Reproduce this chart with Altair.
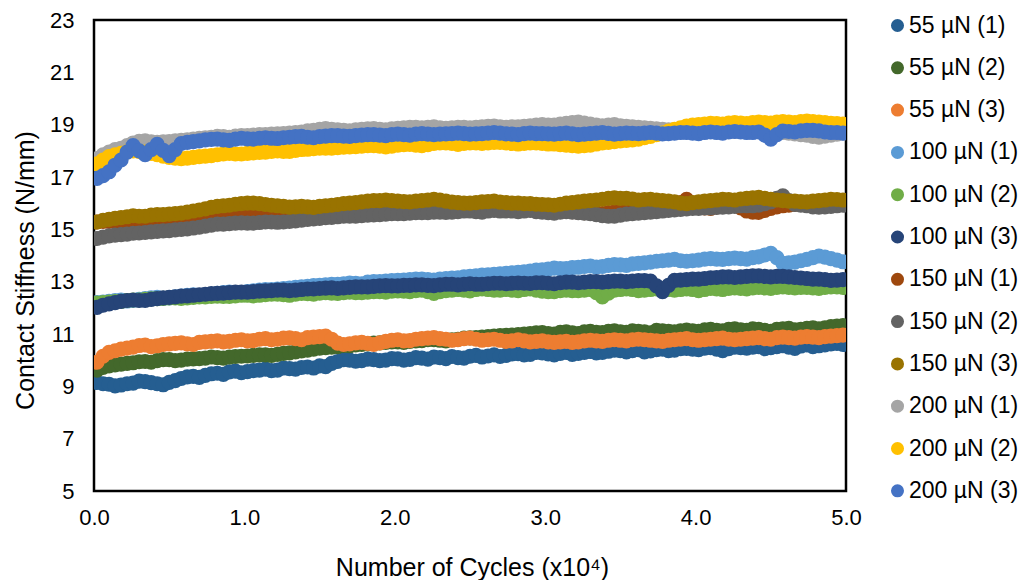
import altair as alt
import pandas as pd

# x positions (x10^4 cycles): two interleaved sampling grids
cycles_a = [0.02, 0.10, 0.18, 0.26, 0.34, 0.42, 0.50, 0.58, 0.66, 0.74,
            0.82, 0.90, 0.98, 1.06, 1.14, 1.22, 1.30, 1.38, 1.46, 1.54,
            1.62, 1.70, 1.78, 1.86, 1.94, 2.02, 2.10, 2.18, 2.26, 2.34,
            2.42, 2.50, 2.58, 2.66, 2.74, 2.82, 2.90, 2.98, 3.06, 3.14,
            3.22, 3.30, 3.38, 3.46, 3.54, 3.62, 3.70, 3.78, 3.86, 3.94,
            4.02, 4.10, 4.18, 4.26, 4.34, 4.42, 4.50, 4.58, 4.66, 4.74,
            4.82, 4.90, 4.98]
cycles_b = [0.06, 0.14, 0.22, 0.30, 0.38, 0.46, 0.54, 0.62, 0.70, 0.78,
            0.86, 0.94, 1.02, 1.10, 1.18, 1.26, 1.34, 1.42, 1.50, 1.58,
            1.66, 1.74, 1.82, 1.90, 1.98, 2.06, 2.14, 2.22, 2.30, 2.38,
            2.46, 2.54, 2.62, 2.70, 2.78, 2.86, 2.94, 3.02, 3.10, 3.18,
            3.26, 3.34, 3.42, 3.50, 3.58, 3.66, 3.74, 3.82, 3.90, 3.98,
            4.06, 4.14, 4.22, 4.30, 4.38, 4.46, 4.54, 4.62, 4.70, 4.78,
            4.86, 4.94]

s55_1a = [9.15, 9.08, 9.05, 9.12, 9.18, 9.10, 9.15, 9.30, 9.38, 9.42,
          9.50, 9.55, 9.52, 9.60, 9.66, 9.62, 9.68, 9.72, 9.70, 9.75,
          9.95, 10.00, 9.98, 10.02, 10.00, 10.05, 10.03, 10.08, 10.12, 10.06,
          10.10, 10.15, 10.12, 10.20, 10.18, 10.25, 10.22, 10.28, 10.20, 10.30,
          10.26, 10.33, 10.30, 10.38, 10.32, 10.40, 10.35, 10.42, 10.38, 10.45,
          10.40, 10.48, 10.36, 10.50, 10.46, 10.52, 10.48, 10.55, 10.45, 10.58,
          10.55, 10.62, 10.60]
s55_1b = [9.10, 9.02, 9.10, 9.20, 9.14, 9.06, 9.22, 9.36, 9.34, 9.48,
          9.46, 9.58, 9.56, 9.62, 9.60, 9.70, 9.66, 9.74, 9.78, 9.88,
          10.02, 9.96, 10.04, 9.98, 10.06, 10.00, 10.10, 10.04, 10.10, 10.14,
          10.08, 10.18, 10.16, 10.14, 10.24, 10.20, 10.30, 10.24, 10.26, 10.22,
          10.30, 10.28, 10.34, 10.36, 10.36, 10.32, 10.40, 10.36, 10.44, 10.42,
          10.46, 10.42, 10.44, 10.48, 10.50, 10.44, 10.52, 10.50, 10.54, 10.52,
          10.58, 10.64]
s55_2a = [9.62, 9.78, 9.85, 9.90, 9.95, 9.98, 10.02, 10.00, 10.05, 10.08,
          10.10, 10.12, 10.15, 10.18, 10.20, 10.22, 10.28, 10.35, 10.42, 10.48,
          10.52, 10.55, 10.60, 10.65, 10.68, 10.70, 10.72, 10.75, 10.78, 10.74,
          10.80, 10.85, 10.88, 10.92, 10.95, 10.98, 11.02, 11.05, 11.00, 11.08,
          11.02, 11.10, 11.05, 11.12, 11.06, 11.10, 11.04, 11.12, 11.08, 11.15,
          11.10, 11.18, 11.12, 11.20, 11.14, 11.18, 11.10, 11.20, 11.16, 11.22,
          11.20, 11.28, 11.32]
s55_2b = [9.72, 9.82, 9.88, 9.94, 9.92, 10.02, 9.98, 10.04, 10.06, 10.12,
          10.08, 10.14, 10.16, 10.20, 10.18, 10.26, 10.32, 10.38, 10.46, 10.50,
          10.56, 10.58, 10.62, 10.66, 10.70, 10.68, 10.74, 10.78, 10.76, 10.78,
          10.84, 10.86, 10.90, 10.94, 10.96, 11.00, 11.04, 11.02, 11.06, 11.04,
          11.08, 11.06, 11.10, 11.08, 11.12, 11.08, 11.14, 11.10, 11.12, 11.12,
          11.16, 11.14, 11.18, 11.16, 11.20, 11.14, 11.18, 11.22, 11.18, 11.24,
          11.24, 11.30]
s55_3a = [9.92, 10.30, 10.42, 10.50, 10.58, 10.55, 10.62, 10.66, 10.60, 10.70,
          10.74, 10.72, 10.78, 10.75, 10.82, 10.80, 10.85, 10.78, 10.88, 10.92,
          10.65, 10.62, 10.68, 10.60, 10.72, 10.78, 10.75, 10.82, 10.86, 10.80,
          10.78, 10.84, 10.76, 10.80, 10.72, 10.78, 10.70, 10.74, 10.68, 10.72,
          10.70, 10.76, 10.72, 10.78, 10.74, 10.80, 10.76, 10.72, 10.78, 10.82,
          10.76, 10.80, 10.84, 10.78, 10.82, 10.86, 10.80, 10.88, 10.84, 10.90,
          10.86, 10.92, 10.96]
s55_3b = [10.15, 10.36, 10.46, 10.56, 10.52, 10.60, 10.64, 10.62, 10.68, 10.72,
          10.70, 10.76, 10.74, 10.80, 10.78, 10.84, 10.82, 10.86, 10.90, 10.80,
          10.60, 10.66, 10.64, 10.66, 10.76, 10.74, 10.80, 10.84, 10.82, 10.76,
          10.82, 10.80, 10.78, 10.76, 10.74, 10.74, 10.72, 10.70, 10.70, 10.68,
          10.74, 10.74, 10.76, 10.76, 10.78, 10.78, 10.74, 10.76, 10.80, 10.78,
          10.78, 10.82, 10.80, 10.80, 10.84, 10.82, 10.86, 10.86, 10.88, 10.88,
          10.90, 10.94]
s100_1a = [12.20, 12.25, 12.30, 12.28, 12.35, 12.40, 12.38, 12.45, 12.50, 12.48,
           12.55, 12.60, 12.58, 12.65, 12.70, 12.72, 12.75, 12.80, 12.85, 12.88,
           12.90, 12.95, 12.92, 13.00, 13.02, 13.05, 13.08, 13.10, 13.06, 13.12,
           13.15, 13.20, 13.25, 13.28, 13.32, 13.36, 13.40, 13.45, 13.52, 13.50,
           13.55, 13.60, 13.58, 13.65, 13.62, 13.70, 13.75, 13.80, 13.85, 13.78,
           13.82, 13.88, 13.85, 13.90, 13.86, 13.95, 14.08, 13.70, 13.75, 13.85,
           13.98, 13.88, 13.76]
s100_1b = [12.22, 12.28, 12.26, 12.32, 12.38, 12.36, 12.42, 12.48, 12.46, 12.52,
           12.58, 12.56, 12.62, 12.68, 12.70, 12.74, 12.78, 12.82, 12.86, 12.90,
           12.92, 12.94, 12.98, 13.00, 13.04, 13.06, 13.10, 13.08, 13.10, 13.14,
           13.18, 13.22, 13.26, 13.30, 13.34, 13.38, 13.44, 13.48, 13.50, 13.54,
           13.58, 13.56, 13.62, 13.64, 13.68, 13.72, 13.78, 13.82, 13.80, 13.80,
           13.86, 13.86, 13.88, 13.88, 13.92, 14.02, 13.92, 13.72, 13.80, 13.92,
           13.94, 13.82]
s100_2a = [12.18, 12.22, 12.25, 12.30, 12.32, 12.35, 12.38, 12.36, 12.40, 12.42,
           12.45, 12.44, 12.48, 12.46, 12.50, 12.52, 12.48, 12.55, 12.52, 12.58,
           12.55, 12.60, 12.58, 12.62, 12.60, 12.65, 12.62, 12.68, 12.55, 12.66,
           12.70, 12.65, 12.72, 12.68, 12.70, 12.66, 12.72, 12.64, 12.62, 12.68,
           12.66, 12.70, 12.42, 12.68, 12.72, 12.66, 12.70, 12.74, 12.68, 12.72,
           12.66, 12.74, 12.70, 12.76, 12.72, 12.78, 12.74, 12.80, 12.76, 12.78,
           12.74, 12.80, 12.78]
s100_2b = [12.20, 12.24, 12.28, 12.30, 12.34, 12.36, 12.38, 12.38, 12.42, 12.44,
           12.44, 12.46, 12.48, 12.48, 12.52, 12.50, 12.52, 12.54, 12.56, 12.56,
           12.58, 12.58, 12.60, 12.62, 12.64, 12.64, 12.66, 12.62, 12.62, 12.68,
           12.68, 12.70, 12.70, 12.68, 12.68, 12.70, 12.68, 12.62, 12.66, 12.66,
           12.68, 12.58, 12.56, 12.70, 12.70, 12.68, 12.72, 12.70, 12.70, 12.70,
           12.70, 12.72, 12.74, 12.74, 12.76, 12.76, 12.78, 12.78, 12.78, 12.76,
           12.78, 12.80]
s100_3a = [12.02, 12.15, 12.25, 12.30, 12.28, 12.35, 12.40, 12.45, 12.48, 12.52,
           12.55, 12.58, 12.60, 12.62, 12.65, 12.68, 12.66, 12.70, 12.72, 12.75,
           12.74, 12.78, 12.80, 12.82, 12.85, 12.84, 12.86, 12.88, 12.85, 12.90,
           12.88, 12.92, 12.90, 12.94, 12.92, 12.95, 12.93, 12.96, 12.92, 12.98,
           12.96, 13.00, 12.98, 13.02, 13.00, 13.04, 13.02, 12.62, 13.05, 13.08,
           13.10, 13.15, 13.18, 13.16, 13.20, 13.22, 13.18, 13.20, 13.16, 13.12,
           13.10, 13.05, 13.08]
s100_3b = [12.10, 12.20, 12.28, 12.28, 12.32, 12.38, 12.42, 12.46, 12.50, 12.54,
           12.56, 12.60, 12.60, 12.64, 12.66, 12.68, 12.68, 12.72, 12.74, 12.76,
           12.76, 12.80, 12.80, 12.84, 12.84, 12.86, 12.88, 12.86, 12.88, 12.90,
           12.90, 12.90, 12.92, 12.94, 12.94, 12.94, 12.96, 12.94, 12.96, 12.98,
           12.98, 13.00, 13.00, 13.02, 13.02, 13.04, 12.84, 12.86, 13.06, 13.10,
           13.12, 13.16, 13.18, 13.18, 13.22, 13.20, 13.20, 13.18, 13.14, 13.10,
           13.08, 13.06]
s150_1a = [15.28, 15.30, 15.32, 15.35, 15.38, 15.36, 15.40, 15.42, 15.38, 15.44,
           15.46, 15.42, 15.48, 15.50, 15.46, 15.52, 15.50, 15.55, 15.58, 15.54,
           15.60, 15.62, 15.65, 15.68, 15.70, 15.72, 15.70, 15.75, 15.78, 15.76,
           15.80, 15.78, 15.82, 15.80, 15.76, 15.72, 15.75, 15.70, 15.68, 15.72,
           15.66, 15.64, 15.60, 15.66, 15.70, 15.74, 15.78, 15.82, 15.90, 16.15,
           15.85, 15.80, 15.92, 15.95, 15.70, 15.65, 15.80, 15.90, 15.95, 15.98,
           16.00, 15.96, 16.02]
s150_1b = [15.30, 15.30, 15.34, 15.36, 15.36, 15.38, 15.42, 15.40, 15.42, 15.46,
           15.44, 15.46, 15.50, 15.48, 15.50, 15.52, 15.54, 15.56, 15.56, 15.58,
           15.62, 15.64, 15.66, 15.70, 15.72, 15.70, 15.72, 15.76, 15.78, 15.78,
           15.80, 15.80, 15.80, 15.78, 15.74, 15.74, 15.72, 15.70, 15.70, 15.68,
           15.64, 15.62, 15.64, 15.68, 15.72, 15.76, 15.80, 15.86, 16.02, 16.00,
           15.82, 15.86, 15.94, 15.82, 15.66, 15.72, 15.86, 15.92, 15.96, 15.98,
           15.98, 16.00]
s150_2a = [14.65, 14.75, 14.80, 14.85, 14.88, 14.92, 14.95, 15.00, 15.05, 15.12,
           15.20, 15.22, 15.25, 15.24, 15.28, 15.27, 15.30, 15.35, 15.40, 15.45,
           15.48, 15.50, 15.52, 15.55, 15.58, 15.60, 15.62, 15.64, 15.66, 15.65,
           15.68, 15.70, 15.66, 15.72, 15.70, 15.68, 15.72, 15.66, 15.62, 15.68,
           15.64, 15.60, 15.52, 15.50, 15.58, 15.62, 15.66, 15.70, 15.74, 15.78,
           15.80, 15.82, 15.85, 15.88, 15.90, 15.92, 16.05, 16.28, 15.95, 15.90,
           15.85, 15.88, 15.92]
s150_2b = [14.70, 14.78, 14.82, 14.86, 14.90, 14.94, 14.98, 15.02, 15.08, 15.16,
           15.20, 15.24, 15.24, 15.26, 15.28, 15.28, 15.32, 15.38, 15.42, 15.46,
           15.50, 15.50, 15.54, 15.56, 15.60, 15.60, 15.64, 15.64, 15.66, 15.66,
           15.70, 15.68, 15.70, 15.70, 15.70, 15.70, 15.68, 15.64, 15.66, 15.66,
           15.62, 15.56, 15.50, 15.54, 15.60, 15.64, 15.68, 15.72, 15.76, 15.80,
           15.82, 15.84, 15.86, 15.90, 15.90, 15.98, 16.18, 16.10, 15.92, 15.86,
           15.86, 15.90]
s150_3a = [15.28, 15.38, 15.45, 15.52, 15.50, 15.56, 15.58, 15.62, 15.70, 15.78,
           15.88, 15.92, 15.98, 16.00, 15.95, 15.90, 15.85, 15.88, 15.84, 15.90,
           15.95, 16.00, 16.05, 16.10, 16.12, 16.08, 16.05, 16.10, 16.15, 16.08,
           16.02, 16.00, 16.05, 16.08, 16.02, 16.00, 15.98, 15.95, 15.92, 16.00,
           16.05, 16.10, 16.15, 16.20, 16.18, 16.12, 16.15, 16.10, 16.05, 15.98,
           16.05, 16.10, 16.15, 16.12, 16.18, 16.22, 16.15, 16.10, 16.08, 16.05,
           16.10, 16.15, 16.12]
s150_3b = [15.34, 15.42, 15.48, 15.50, 15.54, 15.56, 15.60, 15.66, 15.74, 15.84,
           15.90, 15.96, 16.00, 15.98, 15.92, 15.88, 15.86, 15.86, 15.88, 15.92,
           15.98, 16.02, 16.08, 16.10, 16.10, 16.06, 16.08, 16.12, 16.12, 16.04,
           16.00, 16.02, 16.06, 16.04, 16.00, 15.98, 15.96, 15.94, 15.96, 16.02,
           16.08, 16.12, 16.18, 16.18, 16.16, 16.14, 16.12, 16.08, 16.00, 16.02,
           16.08, 16.12, 16.14, 16.16, 16.20, 16.18, 16.12, 16.08, 16.06, 16.08,
           16.12, 16.14]
s200_1a = [17.70, 17.95, 18.10, 18.30, 18.38, 18.32, 18.35, 18.40, 18.45, 18.50,
           18.55, 18.52, 18.58, 18.60, 18.62, 18.65, 18.68, 18.72, 18.78, 18.85,
           18.80, 18.76, 18.82, 18.85, 18.80, 18.86, 18.90, 18.88, 18.92, 18.86,
           18.90, 18.88, 18.92, 18.95, 18.90, 18.92, 18.96, 19.00, 18.98, 19.05,
           19.10, 19.02, 18.96, 19.00, 18.94, 18.90, 18.86, 18.82, 18.80, 18.78,
           18.76, 18.80, 18.78, 18.74, 18.76, 18.80, 18.72, 18.70, 18.65, 18.60,
           18.52, 18.60, 18.68]
s200_1b = [17.85, 18.05, 18.20, 18.36, 18.34, 18.34, 18.38, 18.42, 18.48, 18.52,
           18.54, 18.56, 18.58, 18.62, 18.64, 18.66, 18.70, 18.76, 18.82, 18.82,
           18.78, 18.80, 18.84, 18.82, 18.84, 18.88, 18.90, 18.90, 18.88, 18.88,
           18.90, 18.90, 18.94, 18.92, 18.92, 18.94, 18.98, 18.98, 19.02, 19.08,
           19.06, 18.98, 18.98, 18.96, 18.92, 18.88, 18.84, 18.80, 18.78, 18.76,
           18.78, 18.78, 18.76, 18.76, 18.78, 18.76, 18.70, 18.68, 18.62, 18.55,
           18.56, 18.64]
s200_2a = [17.50, 17.78, 17.90, 18.00, 17.95, 17.85, 17.75, 17.70, 17.75, 17.80,
           17.85, 17.90, 17.88, 17.92, 17.95, 18.00, 17.98, 18.05, 18.08, 18.10,
           18.12, 18.15, 18.18, 18.20, 18.15, 18.22, 18.25, 18.20, 18.28, 18.30,
           18.25, 18.30, 18.28, 18.32, 18.30, 18.26, 18.30, 18.28, 18.26, 18.22,
           18.18, 18.22, 18.30, 18.35, 18.40, 18.45, 18.55, 18.68, 18.82, 18.95,
           19.00, 19.05, 19.02, 19.08, 19.04, 19.10, 19.06, 19.12, 19.08, 19.14,
           19.10, 19.05, 19.02]
s200_2b = [17.65, 17.85, 17.96, 17.98, 17.90, 17.80, 17.72, 17.72, 17.78, 17.82,
           17.88, 17.88, 17.90, 17.94, 17.98, 17.98, 18.02, 18.06, 18.10, 18.10,
           18.14, 18.16, 18.20, 18.18, 18.18, 18.24, 18.22, 18.24, 18.30, 18.28,
           18.28, 18.30, 18.30, 18.32, 18.28, 18.28, 18.30, 18.26, 18.24, 18.20,
           18.20, 18.26, 18.32, 18.38, 18.42, 18.50, 18.62, 18.75, 18.88, 18.98,
           19.02, 19.04, 19.06, 19.06, 19.08, 19.08, 19.10, 19.10, 19.12, 19.12,
           19.08, 19.04]
s200_3a = [16.95, 17.20, 17.65, 18.20, 17.85, 18.25, 17.82, 18.28, 18.35, 18.42,
           18.45, 18.40, 18.48, 18.45, 18.50, 18.47, 18.52, 18.55, 18.50, 18.56,
           18.58, 18.55, 18.60, 18.62, 18.58, 18.64, 18.60, 18.66, 18.62, 18.65,
           18.68, 18.64, 18.66, 18.70, 18.65, 18.62, 18.68, 18.66, 18.64, 18.68,
           18.62, 18.66, 18.70, 18.64, 18.68, 18.66, 18.70, 18.65, 18.68, 18.70,
           18.66, 18.72, 18.68, 18.74, 18.70, 18.72, 18.45, 18.75, 18.72, 18.78,
           18.76, 18.70, 18.68]
s200_3b = [17.05, 17.45, 17.95, 18.00, 18.05, 18.02, 18.05, 18.32, 18.38, 18.44,
           18.42, 18.45, 18.46, 18.48, 18.48, 18.50, 18.54, 18.52, 18.54, 18.58,
           18.56, 18.58, 18.62, 18.60, 18.62, 18.62, 18.64, 18.64, 18.64, 18.66,
           18.66, 18.65, 18.68, 18.68, 18.64, 18.66, 18.66, 18.65, 18.66, 18.65,
           18.64, 18.68, 18.67, 18.66, 18.67, 18.68, 18.68, 18.66, 18.70, 18.68,
           18.70, 18.70, 18.72, 18.72, 18.70, 18.60, 18.62, 18.74, 18.76, 18.78,
           18.72, 18.70]

series_names = ["55 µN (1)", "55 µN (2)", "55 µN (3)",
                "100 µN (1)", "100 µN (2)", "100 µN (3)",
                "150 µN (1)", "150 µN (2)", "150 µN (3)",
                "200 µN (1)", "200 µN (2)", "200 µN (3)"]
series_a = [s55_1a, s55_2a, s55_3a, s100_1a, s100_2a, s100_3a,
            s150_1a, s150_2a, s150_3a, s200_1a, s200_2a, s200_3a]
series_b = [s55_1b, s55_2b, s55_3b, s100_1b, s100_2b, s100_3b,
            s150_1b, s150_2b, s150_3b, s200_1b, s200_2b, s200_3b]
colors = ["#255E91", "#43682B", "#ED7D31", "#5B9BD5", "#70AD47", "#264478",
          "#9E480E", "#636363", "#997300", "#A5A5A5", "#FFC000", "#4472C4"]

y_ticks = [5, 7, 9, 11, 13, 15, 17, 19, 21, 23]
x_ticks = [0, 1, 2, 3, 4, 5]

rows = []
for k, name in enumerate(series_names):
    pts = list(zip(cycles_a, series_a[k])) + list(zip(cycles_b, series_b[k]))
    pts.sort(key=lambda p: p[0])
    for i, (xv, yv) in enumerate(pts):
        rows.append({"series": name, "x": xv, "y": yv, "ord": k * 1000 + i})
df = pd.DataFrame(rows)

FONT = "Liberation Sans"

chart = alt.Chart(df).mark_circle(size=230, opacity=1, clip=True).encode(
    x=alt.X("x:Q",
            scale=alt.Scale(domain=[0, 5], nice=False, zero=False),
            axis=alt.Axis(values=x_ticks, format=".1f", title="Number of Cycles (x10⁴)",
                          grid=False, ticks=False, domain=False, labelFlush=False,
                          labelFontSize=22, labelPadding=16, labelColor="#000",
                          titleFontSize=25, titleFontWeight="normal", titleColor="#000",
                          titleBaseline="middle", titleY=76, titleX=378)),
    y=alt.Y("y:Q",
            scale=alt.Scale(domain=[5, 23], nice=False, zero=False),
            axis=alt.Axis(values=y_ticks, title="Contact Stiffness (N/mm)",
                          grid=False, ticks=False, domain=False, labelFlush=False,
                          labelFontSize=22, labelPadding=20, labelColor="#000",
                          titleFontSize=25, titleFontWeight="normal", titleColor="#000",
                          titleBaseline="middle", titleX=-69, titleY=250)),
    color=alt.Color("series:N",
                    scale=alt.Scale(domain=series_names, range=colors),
                    sort=series_names,
                    legend=alt.Legend(title=None, orient="none", legendX=792, legendY=-6,
                                      symbolType="circle", symbolSize=170,
                                      symbolStrokeWidth=0, labelFontSize=23,
                                      labelColor="#000", labelOffset=0,
                                      rowPadding=18.3)),
    order=alt.Order("ord:Q"),
).properties(
    width=752, height=471,
    padding={"left": 86, "top": 12, "right": 173, "bottom": 89},
    autosize=alt.AutoSizeParams(type="none"),
).configure(
    font=FONT,
).configure_view(
    stroke="#000", strokeWidth=2.5,
)

chart.save("out.html", embed_options={"renderer": "svg", "actions": False})
